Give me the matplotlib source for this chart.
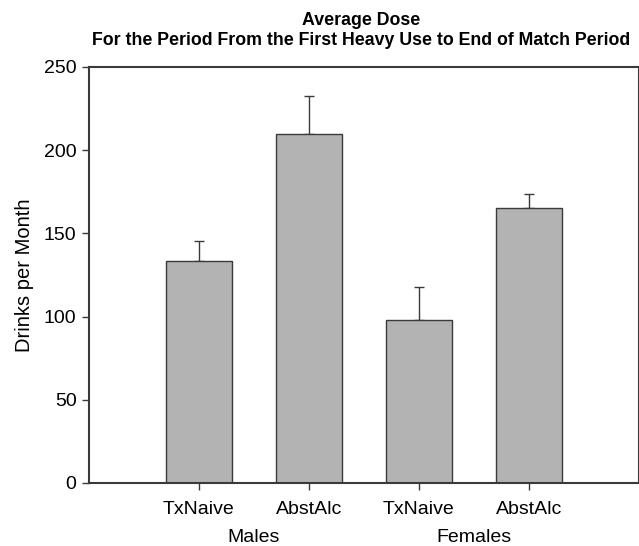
import matplotlib
matplotlib.use("Agg")
import matplotlib.pyplot as plt

# Mean drinks per month with upper standard-error whiskers
groups = ["Males", "Females"]
conditions = ["TxNaive", "AbstAlc", "TxNaive", "AbstAlc"]
means = [133.5, 209.5, 98.0, 165.0]
errors = [12.0, 23.0, 19.5, 8.5]

title_lines = ["Average Dose",
               "For the Period From the First Heavy Use to End of Match Period"]
ylabel = "Drinks per Month"
yticks = [0, 50, 100, 150, 200, 250]

plt.rcParams["font.family"] = ["Liberation Sans", "DejaVu Sans"]

fig = plt.figure(figsize=(6.39, 5.46), dpi=100)
ax = fig.add_axes([0.1393, 0.1154, 0.8600, 0.7619])

edge = "#3a3a3a"
positions = [1, 2, 3, 4]
ax.bar(positions, means, width=0.6, color="#b3b3b3", edgecolor=edge,
       linewidth=1.0, zorder=2)
ax.errorbar(positions, means, yerr=[[0] * len(errors), errors], fmt="none",
            ecolor=edge, elinewidth=1.0, capsize=3.6, capthick=1.0, zorder=1)

ax.set_xlim(0, 5)
ax.set_ylim(0, 250)
ax.set_yticks(yticks)
ax.set_xticks(positions)
ax.set_xticklabels(conditions)
ax.tick_params(axis="both", labelsize=14, length=5, width=1.0, color=edge,
               direction="out", pad=4)
ax.tick_params(axis="x", pad=8)

for side in ["left", "bottom", "top", "right"]:
    ax.spines[side].set_color(edge)
    ax.spines[side].set_linewidth(1.5)

ax.set_ylabel(ylabel, fontsize=14.5, labelpad=7)

# Group names centred under each pair of bars
for i, g in enumerate(groups):
    ax.text((positions[2 * i] + positions[2 * i + 1]) / 2, -0.13, g,
            transform=ax.get_xaxis_transform(), ha="center", va="center",
            fontsize=14)

fig.text(0.565, 0.963, title_lines[0], ha="center", va="center",
         fontsize=12.8, fontweight="bold")
fig.text(0.565, 0.925, title_lines[1], ha="center", va="center",
         fontsize=12.8, fontweight="bold")

fig.savefig("out.png", dpi=100)
